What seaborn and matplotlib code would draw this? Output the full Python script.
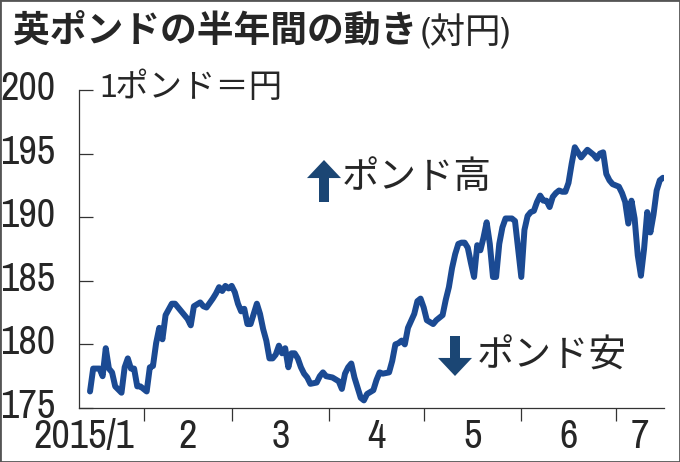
# GBP/JPY over half a year, newspaper style line chart
import pandas as pd
import matplotlib.pyplot as plt
import matplotlib.transforms as mtransforms
from matplotlib import font_manager
from matplotlib.patches import Rectangle
import seaborn as sns

# Data (yen per pound)
dates = [
    '2015-01-15', '2015-01-16', '2015-01-18', '2015-01-19', '2015-01-20',
    '2015-01-21', '2015-01-22', '2015-01-23', '2015-01-25', '2015-01-26',
    '2015-01-27', '2015-01-28', '2015-01-29', '2015-01-30', '2015-01-31',
    '2015-02-02', '2015-02-03', '2015-02-04', '2015-02-05', '2015-02-06',
    '2015-02-07', '2015-02-08', '2015-02-10', '2015-02-11', '2015-02-13',
    '2015-02-15', '2015-02-16', '2015-02-17', '2015-02-19', '2015-02-20',
    '2015-02-21', '2015-02-23', '2015-02-24', '2015-02-25', '2015-02-26',
    '2015-02-27', '2015-02-28',
    '2015-03-01', '2015-03-02', '2015-03-03', '2015-03-04', '2015-03-05',
    '2015-03-06', '2015-03-07', '2015-03-09', '2015-03-10', '2015-03-11',
    '2015-03-12', '2015-03-13', '2015-03-14', '2015-03-15', '2015-03-16',
    '2015-03-17', '2015-03-18', '2015-03-19', '2015-03-20', '2015-03-21',
    '2015-03-22', '2015-03-23', '2015-03-24', '2015-03-25', '2015-03-26',
    '2015-03-28', '2015-03-29', '2015-03-30', '2015-03-31',
    '2015-04-02', '2015-04-04', '2015-04-05', '2015-04-06', '2015-04-07',
    '2015-04-08', '2015-04-09', '2015-04-11', '2015-04-12', '2015-04-13',
    '2015-04-15', '2015-04-16', '2015-04-17', '2015-04-18', '2015-04-20',
    '2015-04-21', '2015-04-22', '2015-04-23', '2015-04-24', '2015-04-25',
    '2015-04-26', '2015-04-28', '2015-04-29', '2015-04-30',
    '2015-05-01', '2015-05-02', '2015-05-04', '2015-05-05', '2015-05-07',
    '2015-05-08', '2015-05-09', '2015-05-10', '2015-05-11', '2015-05-12',
    '2015-05-13', '2015-05-14', '2015-05-15', '2015-05-16', '2015-05-17',
    '2015-05-18', '2015-05-19', '2015-05-20', '2015-05-21', '2015-05-22',
    '2015-05-23', '2015-05-24', '2015-05-25', '2015-05-26', '2015-05-27',
    '2015-05-29', '2015-05-30', '2015-05-31',
    '2015-06-01', '2015-06-02', '2015-06-03', '2015-06-04', '2015-06-05',
    '2015-06-06', '2015-06-07', '2015-06-08', '2015-06-09', '2015-06-10',
    '2015-06-11', '2015-06-12', '2015-06-13', '2015-06-14', '2015-06-15',
    '2015-06-16', '2015-06-17', '2015-06-18', '2015-06-19', '2015-06-20',
    '2015-06-21', '2015-06-22', '2015-06-23', '2015-06-24', '2015-06-25',
    '2015-06-26', '2015-06-27', '2015-06-28', '2015-06-29', '2015-06-30',
    '2015-07-01', '2015-07-02', '2015-07-03', '2015-07-04', '2015-07-05',
    '2015-07-06', '2015-07-07', '2015-07-08', '2015-07-09', '2015-07-10',
    '2015-07-11', '2015-07-12', '2015-07-13', '2015-07-14', '2015-07-15',
    '2015-07-16',
]
rates = [
    176.3, 178.1, 178.1, 177.5, 179.7,
    178.1, 177.8, 176.7, 176.2, 178.2,
    178.9, 178.1, 178.1, 176.7, 176.7,
    176.3, 178.2, 178.3, 180.1, 181.3,
    180.4, 182.3, 183.2, 183.2, 182.6,
    182.0, 181.5, 183.0, 183.3, 183.0,
    182.9, 183.6, 184.0, 184.5, 184.2,
    184.6, 184.4,
    184.6, 184.1, 183.2, 182.6, 182.8,
    181.6, 181.6, 183.2, 182.4, 181.2,
    180.3, 178.9, 178.9, 179.2, 179.9,
    179.3, 179.7, 178.2, 179.3, 179.3,
    178.9, 178.2, 177.7, 177.4, 176.9,
    177.0, 177.5, 177.8, 177.5,
    177.4, 177.1, 176.5, 177.7, 178.2,
    178.5, 177.4, 175.8, 175.6, 176.1,
    176.4, 177.2, 177.8, 177.7, 177.8,
    178.7, 180.0, 180.1, 180.3, 180.0,
    181.3, 182.4, 183.4, 183.6,
    182.9, 181.9, 181.6, 181.9, 182.3,
    183.5, 184.5, 186.0, 187.1, 187.9,
    188.0, 188.0, 187.6, 186.4, 185.3,
    187.8, 187.4, 188.4, 189.6, 187.9,
    185.3, 185.3, 187.9, 189.2, 189.9,
    189.9, 189.7, 187.5,
    185.3, 189.0, 190.1, 190.4, 190.5,
    191.2, 191.7, 191.3, 191.3, 190.8,
    191.6, 191.9, 192.1, 192.0, 192.0,
    192.7, 194.2, 195.5, 195.1, 194.7,
    195.0, 195.3, 195.1, 194.9, 194.6,
    195.0, 195.1, 193.4, 192.9, 192.6,
    192.5, 192.4, 191.9, 191.2, 189.5,
    191.3, 189.9, 187.0, 185.4, 187.5,
    190.4, 188.8, 190.2, 192.1, 192.9,
    193.1,
]
month_labels = ['2015/1', '2', '3', '4', '5', '6', '7']
y_ticks = [175, 180, 185, 190, 195, 200]

df = pd.DataFrame({'date': pd.to_datetime(dates), 'rate': rates})

line_color = '#1b4a93'
arrow_color = '#1b4674'


# the numbers in the original are set in a narrow sans face; use one if present
def pick_narrow_font():
    fonts = [f for f in font_manager.fontManager.ttflist
             if f.style == 'normal' and f.weight in (400, 'normal', 'regular')
             and 'Serif' not in f.name and 'Mono' not in f.name]
    for f in fonts:
        if 'Narrow' in f.name:
            return f.name, 'normal', True
    for f in fonts:
        if 'Condensed' in f.name:
            return f.name, 'normal', True
    for f in fonts:
        if f.stretch in ('condensed', 'semi-condensed', 'extra-condensed'):
            return f.name, f.stretch, True
    return 'Liberation Sans', 'normal', False


narrow_name, narrow_stretch, has_narrow = pick_narrow_font()
num_size = 29 if has_narrow else 22
narrow = [narrow_name, 'Noto Sans CJK JP', 'DejaVu Sans']
cjk = ['Noto Sans CJK JP', 'DejaVu Sans']

sns.set_style('white')
plt.rcParams['font.family'] = narrow
plt.rcParams['font.stretch'] = narrow_stretch

fig = plt.figure(figsize=(6.8, 4.62), dpi=100)
ax = fig.add_axes([79 / 680, 54 / 462, 585 / 680, 318 / 462])

sns.lineplot(data=df, x='date', y='rate', color=line_color, linewidth=4.3,
             solid_joinstyle='round', solid_capstyle='round', ax=ax)

x_min = pd.Timestamp('2015-01-11 12:00')
x_max = pd.Timestamp('2015-07-16 08:00')
ax.set_xlim(x_min, x_max)
ax.set_ylim(175, 200)
ax.set_xlabel('')
ax.set_ylabel('')

# spines
for side in ['top', 'right']:
    ax.spines[side].set_visible(False)
for side in ['left', 'bottom']:
    ax.spines[side].set_color('#333333')
    ax.spines[side].set_linewidth(0.9)

# y axis: inward ticks, big narrow numbers
ax.set_yticks(y_ticks)
ax.set_yticklabels([str(v) for v in y_ticks])
ax.tick_params(axis='y', direction='in', length=10, width=0.9,
               color='#333333', pad=17, labelsize=num_size, left=True)
shift = mtransforms.ScaledTranslation(0, 0.05, fig.dpi_scale_trans)
for lab in ax.get_yticklabels():
    lab.set_transform(lab.get_transform() + shift)

# x axis: month boundaries as outward ticks, labels between them
month_starts = pd.date_range('2015-01-01', periods=8, freq='MS')
ax.set_xticks(month_starts[1:7])
ax.set_xticklabels([])
ax.tick_params(axis='x', direction='out', length=9.5, width=0.9,
               color='#333333', bottom=True)
xtrans = ax.get_xaxis_transform()
for i, lab in enumerate(month_labels):
    if i == 0:
        ax.text(month_starts[1] - pd.Timedelta(days=3), -0.126, lab,
                transform=xtrans, ha='right', va='baseline', fontsize=num_size)
    else:
        lo = max(month_starts[i], x_min)
        hi = min(month_starts[i + 1], x_max)
        ax.text(lo + (hi - lo) / 2, -0.126, lab, transform=xtrans,
                ha='center', va='baseline', fontsize=num_size)

# unit label
fig.text(100 / 680, (462 - 87) / 462, '1ポンド＝円', fontsize=24,
         va='center', ha='left', family=narrow)

# annotations
ax.text(pd.Timestamp('2015-04-05'), 193.1, 'ポンド高', fontsize=27,
        va='center', ha='left', family=cjk)
ax.text(pd.Timestamp('2015-05-18'), 179.1, 'ポンド安', fontsize=27,
        va='center', ha='left', family=cjk)
arrow_style = 'simple,head_length=13,head_width=24.5,tail_width=7.2'
ax.annotate('', xy=(324, 462 - 160), xytext=(324, 462 - 202),
            xycoords='figure pixels', textcoords='figure pixels',
            arrowprops=dict(arrowstyle=arrow_style, mutation_scale=1,
                            color=arrow_color, lw=0, shrinkA=0, shrinkB=0))
ax.annotate('', xy=(455, 462 - 376), xytext=(455, 462 - 336),
            xycoords='figure pixels', textcoords='figure pixels',
            arrowprops=dict(arrowstyle=arrow_style, mutation_scale=1,
                            color=arrow_color, lw=0, shrinkA=0, shrinkB=0))

# title and the lighter "(対円)" right after it
title = fig.text(13 / 680, (462 - 31.5) / 462, '英ポンドの半年間の動き',
                 fontsize=26.5, fontweight='bold', family=cjk,
                 va='center', ha='left')
fig.canvas.draw()
bb = title.get_window_extent()
fig.text((bb.x1 + 3) / 680, (462 - 31.5) / 462, '(対円)', fontsize=25.5,
         family=narrow, va='center', ha='left')

# thin frame around the whole picture
fig.patches.append(Rectangle((0, 0), 1, 1, transform=fig.transFigure,
                             fill=False, edgecolor='#555555', linewidth=2))

plt.savefig('out.png', dpi=100)
